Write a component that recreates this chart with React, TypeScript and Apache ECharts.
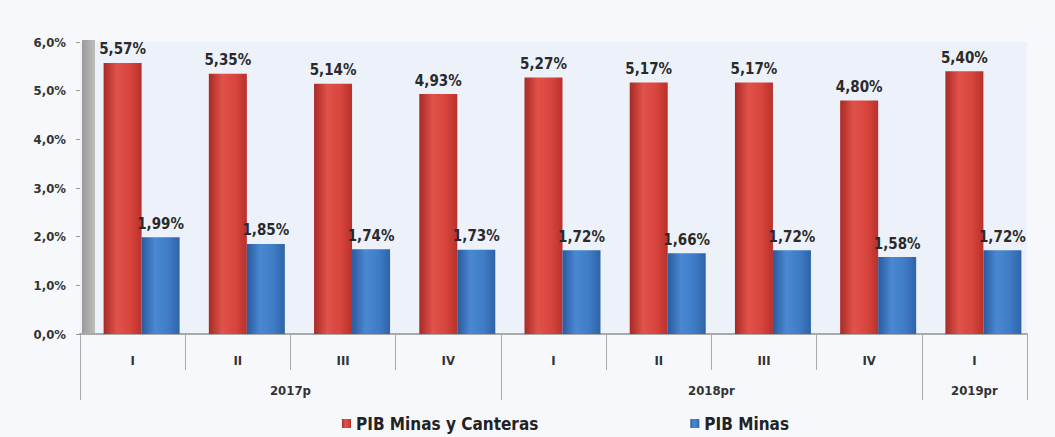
import React, { useEffect, useRef } from "react";
import * as echarts from "echarts";

const quarters = ["I", "II", "III", "IV", "I", "II", "III", "IV", "I"];
const years = ["2017p", "2018pr", "2019pr"];
const yearBoundaries = [0, 4, 8, 9];
const yearCenters = [2, 6, 8.5];
const minasCanteras = [5.57, 5.35, 5.14, 4.93, 5.27, 5.17, 5.17, 4.8, 5.4];
const minas = [1.99, 1.85, 1.74, 1.73, 1.72, 1.66, 1.72, 1.58, 1.72];
const yTicks = [0, 1, 2, 3, 4, 5, 6];

const FONT = "'DejaVu Sans Condensed', 'Liberation Sans Narrow', 'Liberation Sans', Arial, sans-serif";

const fmt2 = (v: number) => v.toFixed(2).replace(".", ",") + "%";
const fmt1 = (v: number) => v.toFixed(1).replace(".", ",") + "%";

export default function App() {
  const ref = useRef<HTMLDivElement>(null);
  useEffect(() => {
    if (!ref.current) return;
    const chart = echarts.init(ref.current, null, { renderer: "svg" });
    const redGrad = new echarts.graphic.LinearGradient(0, 0, 1, 0, [
      { offset: 0, color: "#a82a25" },
      { offset: 0.35, color: "#e0524a" },
      { offset: 0.7, color: "#d8453d" },
      { offset: 1, color: "#b8312b" },
    ]);
    const blueGrad = new echarts.graphic.LinearGradient(0, 0, 1, 0, [
      { offset: 0, color: "#2a5a9e" },
      { offset: 0.35, color: "#4a88d2" },
      { offset: 0.7, color: "#3f7cc6" },
      { offset: 1, color: "#2e63a8" },
    ]);
    const labelStyle = {
      show: true,
      position: "top" as const,
      distance: 6,
      formatter: (p: any) => fmt2(p.value),
      fontFamily: FONT,
      fontSize: 15,
      fontWeight: "bold" as const,
      color: "#2a2a2a",
    };
    const yBase = {
      type: "value" as const,
      min: yTicks[0],
      max: yTicks[yTicks.length - 1],
      interval: 1,
      splitLine: { show: false },
    };
    chart.setOption({
      animation: false,
      backgroundColor: "#f6f8fc",
      textStyle: { fontFamily: FONT },
      grid: [
        {
          left: 80,
          right: 28,
          top: 42,
          bottom: 103,
          show: true,
          backgroundColor: "#edf2fa",
          borderWidth: 0,
        },
        {
          left: 89,
          right: 19,
          top: 42,
          bottom: 103,
          show: false,
        },
      ],
      graphic: [
        {
          type: "rect",
          shape: { x: 82, y: 40, width: 13, height: 294 },
          style: {
            fill: new echarts.graphic.LinearGradient(0, 0, 1, 0, [
              { offset: 0, color: "#9a9a9a" },
              { offset: 1, color: "#bdbdbd" },
            ]),
          },
          z: 0,
        },
      ],
      legend: {
        bottom: 0,
        left: 337,
        itemGap: 152,
        itemWidth: 9,
        itemHeight: 9,
        icon: "rect",
        textStyle: { fontFamily: FONT, fontSize: 17, fontWeight: "bold", color: "#222" },
        data: ["PIB Minas y Canteras", "PIB Minas"],
      },
      xAxis: [
        {
          type: "category",
          gridIndex: 0,
          data: quarters,
          position: "bottom",
          axisLine: { show: true, lineStyle: { color: "#a9a9a9", width: 2 } },
          axisTick: { show: true, length: 36, lineStyle: { color: "#a9a9a9" } },
          axisLabel: { margin: 20, fontFamily: FONT, fontSize: 13, fontWeight: "bold", color: "#333" },
        },
        {
          type: "value",
          gridIndex: 0,
          min: 0,
          max: 9,
          position: "bottom",
          axisLine: { show: false },
          splitLine: { show: false },
          axisTick: {
            show: true,
            length: 66,
            customValues: yearBoundaries,
            lineStyle: { color: "#a9a9a9" },
          },
          axisLabel: {
            show: true,
            margin: 50,
            customValues: yearCenters,
            formatter: (v: number) => years[yearCenters.indexOf(v)] ?? "",
            fontFamily: FONT,
            fontSize: 13,
            fontWeight: "bold",
            color: "#333",
          },
        },
        {
          type: "category",
          gridIndex: 1,
          data: quarters,
          show: false,
        },
      ],
      yAxis: [
        {
          ...yBase,
          gridIndex: 0,
          axisLine: { show: false },
          axisTick: { show: true, length: 4, lineStyle: { color: "#999" } },
          axisLabel: {
            formatter: (v: number) => fmt1(v),
            fontFamily: FONT,
            fontSize: 13,
            fontWeight: "bold",
            color: "#333",
            margin: 14,
          },
        },
        {
          ...yBase,
          gridIndex: 1,
          show: false,
        },
      ],
      series: [
        {
          name: "PIB Minas y Canteras",
          type: "bar",
          xAxisIndex: 2,
          yAxisIndex: 1,
          data: minasCanteras,
          barWidth: 38,
          barGap: "0%",
          itemStyle: { color: redGrad },
          label: labelStyle,
        },
        {
          name: "PIB Minas",
          type: "bar",
          xAxisIndex: 2,
          yAxisIndex: 1,
          data: minas,
          barWidth: 38,
          barGap: "0%",
          itemStyle: { color: blueGrad },
          label: labelStyle,
        },
      ],
      color: ["#d4423b", "#3f7cc6"],
    });
    return () => chart.dispose();
  }, []);
  return (
    <div
      ref={ref}
      style={{ position: "fixed", left: 0, top: 0, width: 1055, height: 437 }}
    />
  );
}
